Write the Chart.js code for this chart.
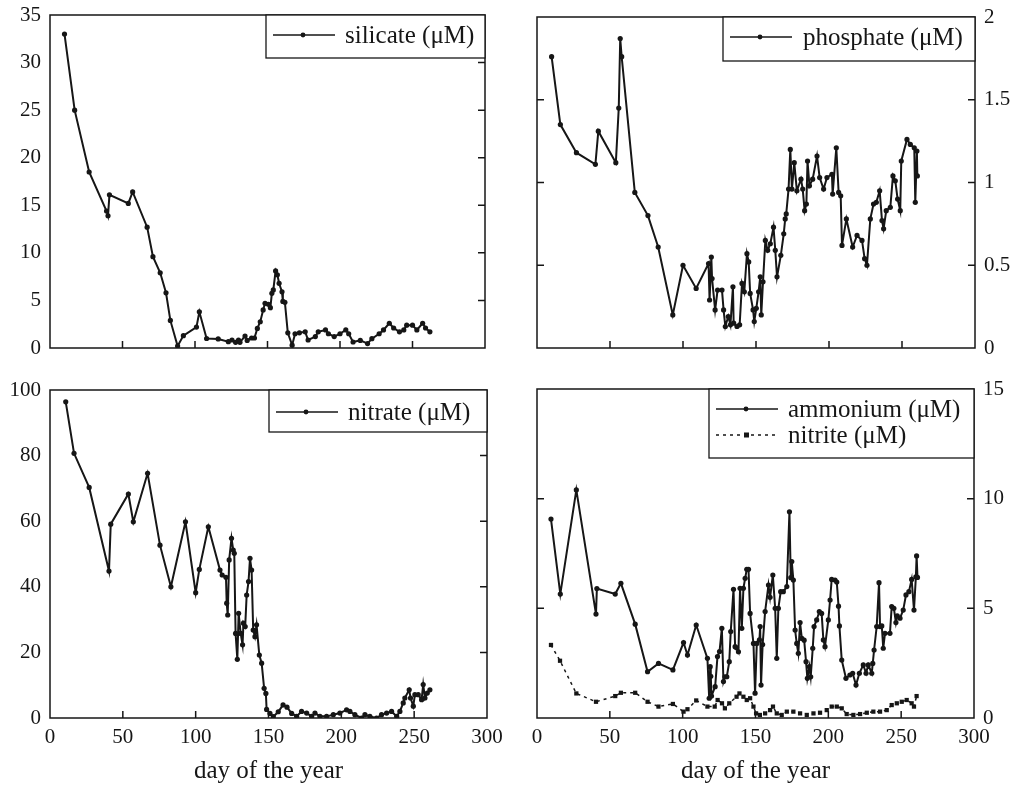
<!DOCTYPE html>
<html>
<head>
<meta charset="utf-8">
<script src="https://cdn.jsdelivr.net/npm/chart.js@4/dist/chart.umd.min.js"></script>
<style>
  html, body { margin: 0; padding: 0; background: #fff; }
  #wrap { position: relative; width: 1012px; height: 788px; }
  #wrap canvas { position: absolute; left: 0; top: 0; }
</style>
</head>
<body>
<div id="wrap">
  <canvas id="silicate" width="1012" height="788"></canvas>
  <canvas id="phosphate" width="1012" height="788"></canvas>
  <canvas id="nitrate" width="1012" height="788"></canvas>
  <canvas id="ammonium" width="1012" height="788"></canvas>
</div>
<script>
// values, day of the year vs concentration (uM)
const silicateDay = [10, 17, 27, 39, 40, 41, 54, 57, 67, 71, 76, 80, 83, 88, 92, 101, 103, 108, 116, 123, 125.5, 128, 130, 131, 134.5, 136, 139, 141, 143, 145, 147, 148.3, 150.6, 152, 153, 154, 155.6, 156.8, 158, 160, 160.6, 162, 164, 167, 169, 172, 176, 178, 183, 185, 190, 192, 196, 200, 204, 206, 209, 214, 219, 222, 227, 230, 234, 237, 241, 244, 246, 250, 253, 257, 259, 262];
const silicateVal = [33, 25, 18.5, 14.4, 13.9, 16.1, 15.2, 16.4, 12.7, 9.6, 7.9, 5.8, 2.9, 0.2, 1.3, 2.2, 3.8, 1.0, 0.95, 0.67, 0.84, 0.6, 0.84, 0.6, 1.26, 0.8, 1.05, 1.05, 2.06, 2.76, 4.0, 4.7, 4.6, 4.24, 5.75, 6.1, 8.1, 7.7, 6.8, 5.9, 4.9, 4.8, 1.6, 0.3, 1.5, 1.6, 1.7, 0.84, 1.2, 1.7, 1.9, 1.5, 1.2, 1.5, 1.9, 1.5, 0.63, 0.8, 0.46, 0.98, 1.5, 1.9, 2.6, 2.1, 1.7, 1.9, 2.4, 2.4, 1.9, 2.6, 2.1, 1.7];

const phosphateDay = [10, 16, 27, 40, 42, 54, 56, 57, 58, 67, 76, 83, 93, 100, 109, 117.5, 118.2, 119.4, 119.9, 122, 123.7, 126.7, 127.8, 129, 131, 132.5, 134.2, 134.7, 137, 138.8, 140.4, 142, 143.8, 145, 146, 148, 148.8, 150.2, 151.8, 152.9, 153.6, 154.8, 156.4, 158, 159.8, 162, 163.2, 164.4, 167, 169, 170, 170.7, 172.3, 173.5, 174.6, 176.2, 178, 180.8, 182, 183.3, 184.5, 185.3, 186.6, 188.8, 191.8, 193.6, 196.3, 198.6, 202, 202.5, 205, 206.6, 208, 208.9, 211.9, 216.2, 219.2, 222.6, 224.4, 226, 228.3, 230.5, 232.4, 234.7, 236.3, 237.4, 239.2, 242, 243.8, 245.4, 247, 248.8, 249.5, 253.4, 255.7, 258.4, 259.1, 260.2, 260.5];
const phosphateVal = [1.76, 1.35, 1.18, 1.11, 1.31, 1.12, 1.45, 1.87, 1.76, 0.94, 0.80, 0.61, 0.20, 0.50, 0.36, 0.51, 0.29, 0.55, 0.42, 0.23, 0.35, 0.35, 0.23, 0.13, 0.19, 0.14, 0.37, 0.15, 0.13, 0.14, 0.39, 0.34, 0.57, 0.52, 0.33, 0.23, 0.16, 0.24, 0.34, 0.43, 0.20, 0.40, 0.65, 0.59, 0.63, 0.73, 0.59, 0.43, 0.56, 0.69, 0.78, 0.81, 0.96, 1.20, 0.96, 1.12, 0.95, 1.02, 0.96, 0.83, 0.87, 1.13, 0.98, 1.02, 1.16, 1.03, 0.96, 1.03, 1.05, 0.93, 1.21, 0.94, 0.92, 0.62, 0.78, 0.61, 0.68, 0.65, 0.54, 0.50, 0.78, 0.87, 0.88, 0.95, 0.77, 0.72, 0.83, 0.85, 1.04, 1.01, 0.90, 0.83, 1.13, 1.26, 1.23, 1.21, 0.88, 1.19, 1.04];

const nitrateDay = [10.8, 16.5, 26.9, 40.5, 41.7, 53.8, 57.2, 67, 75.5, 83, 93, 100, 102.5, 108.7, 116.7, 118.2, 120.8, 121.3, 122, 123, 124.6, 125.8, 126.5, 127.4, 128.6, 129.5, 130.9, 132.2, 132.8, 134, 135, 136.3, 137.3, 138.4, 139.5, 140.7, 141.8, 143.7, 145.3, 147, 148.2, 148.7, 151, 153.3, 156.7, 160, 162.7, 165.9, 169.3, 172.7, 176.2, 179.6, 181.9, 185.3, 189.9, 194.5, 199, 203.6, 205.9, 209.3, 213.9, 216.2, 219.6, 224.2, 227.6, 231.1, 234.5, 238, 240.2, 242.5, 243.6, 246.6, 247.5, 249.4, 250.5, 252.8, 255.1, 256.2, 257.4, 259, 260.8];
const nitrateVal = [96.4, 80.7, 70.3, 44.8, 59.1, 68.3, 59.8, 74.6, 52.7, 40, 59.8, 38.2, 45.3, 58.3, 45.1, 43.6, 42.9, 35, 31.4, 48.2, 54.8, 51.2, 50.2, 25.8, 17.9, 31.9, 25.8, 22.3, 28.9, 27.9, 37.5, 41.6, 48.7, 45.1, 26.8, 24.8, 28.4, 19.2, 16.7, 9.05, 7.5, 2.6, 1.4, 0.4, 1.9, 4.0, 3.3, 1.4, 0.5, 2.0, 1.5, 0.5, 1.5, 0.5, 0.5, 1.0, 1.5, 2.5, 2.0, 1.0, 0, 1.0, 0.5, 0, 1.0, 1.5, 2.0, 0.5, 2.0, 4.6, 6.1, 8.6, 6.1, 3.6, 7.1, 7.1, 5.6, 10.2, 6.1, 7.6, 8.6];

const ammoniumDay = [9.6, 16, 27, 40.5, 41.1, 53.7, 57.6, 67.4, 75.9, 83.4, 93.3, 100.6, 103.3, 109.3, 117, 118.2, 118.9, 119.3, 119.8, 122.3, 123.9, 125.3, 126.9, 128, 129, 130.3, 132, 133, 134.9, 136, 137, 138.3, 139.4, 140.6, 141.7, 142.9, 144, 145.2, 146.3, 148.6, 149.7, 150.9, 152.7, 153.2, 153.8, 154.9, 156.6, 158.9, 160, 161.9, 163.5, 164.6, 165.7, 167.3, 169.1, 171.5, 173.3, 174.2, 174.9, 176, 177.2, 178.3, 179.4, 180.6, 181.8, 183.4, 184.7, 185.6, 187, 187.9, 189.3, 190.2, 192, 193.8, 195.4, 196.6, 197.7, 200, 201.2, 202.3, 204.6, 205.8, 207, 207.6, 209.2, 212.1, 214.8, 216.7, 219, 221.3, 224, 225.9, 227.4, 229.8, 230.5, 231.4, 233.2, 234.8, 235.5, 236.7, 237.7, 238.9, 242.3, 243.5, 245, 246.4, 247.3, 249.2, 251.4, 253.3, 255.3, 257.2, 258.8, 260.1, 260.6, 261.2];
const ammoniumVal = [9.07, 5.65, 10.4, 4.74, 5.9, 5.65, 6.14, 4.28, 2.11, 2.49, 2.19, 3.44, 2.87, 4.24, 2.72, 0.9, 2.34, 1.9, 1.0, 1.43, 2.8, 3.03, 4.09, 1.66, 1.88, 1.88, 2.57, 3.94, 5.87, 3.25, 3.2, 3.02, 5.91, 4.09, 5.91, 6.37, 6.78, 6.78, 4.77, 3.4, 1.13, 3.4, 3.56, 4.17, 1.5, 3.35, 4.85, 6.06, 5.5, 6.52, 5.0, 2.72, 5.0, 5.76, 5.76, 5.99, 9.4, 6.4, 7.13, 6.29, 4.01, 3.4, 2.95, 4.35, 3.63, 3.55, 2.57, 1.81, 2.34, 1.88, 3.18, 4.17, 4.47, 4.85, 4.77, 3.56, 3.25, 4.47, 5.38, 6.32, 6.29, 6.2, 5.1, 4.2, 2.64, 1.81, 1.96, 2.04, 1.5, 2.04, 2.42, 2.04, 2.42, 2.04, 2.49, 3.1, 4.17, 6.17, 4.17, 4.2, 3.18, 3.86, 3.86, 5.08, 5.0, 4.35, 4.66, 4.55, 4.92, 5.61, 5.76, 6.32, 4.92, 6.44, 7.39, 6.41];

const nitriteDay = [9.6, 15.8, 27, 40.5, 53.7, 57.6, 67.4, 75.9, 83.4, 93.3, 100.6, 103.3, 109.3, 117, 122, 124, 127, 129, 132, 137, 139, 141.7, 144, 146.3, 148.6, 150.4, 153, 156.6, 160, 162, 164.6, 168, 171.5, 176, 180.6, 185.2, 189.8, 194.3, 198.9, 202.3, 205.8, 209.2, 212.6, 217.2, 221.8, 226.4, 230.9, 235.5, 240.1, 243.5, 247, 250.4, 253.8, 257.2, 258.8, 260.6];
const nitriteVal = [3.33, 2.61, 1.12, 0.74, 1.0, 1.15, 1.15, 0.74, 0.52, 0.64, 0.29, 0.4, 0.8, 0.52, 0.52, 0.82, 0.67, 0.44, 0.67, 0.97, 1.12, 0.97, 0.82, 0.9, 0.52, 0.21, 0.14, 0.21, 0.36, 0.52, 0.21, 0.14, 0.29, 0.29, 0.21, 0.14, 0.21, 0.24, 0.36, 0.52, 0.52, 0.44, 0.18, 0.14, 0.18, 0.24, 0.29, 0.29, 0.36, 0.59, 0.67, 0.74, 0.82, 0.67, 0.52, 1.0];

const INK = '#161616';
const SERIF = "'Liberation Serif', 'DejaVu Serif', serif";

function pts(days, vals) {
    return days.map((d, i) => ({x: d, y: vals[i]}));
}

function line(label, days, vals, extra) {
    return Object.assign({
        label: label,
        data: pts(days, vals),
        borderColor: INK,
        backgroundColor: INK,
        borderWidth: 2,
        pointRadius: 2.6,
        pointBorderWidth: 0,
        pointBackgroundColor: INK,
        tension: 0
    }, extra || {});
}

// frame, inward tick marks and the boxed legend
const framePlugin = {
    id: 'frame',
    afterDraw(chart, args, opts) {
        const {ctx, chartArea: a, scales} = chart;
        const len = 7;
        ctx.save();
        ctx.strokeStyle = INK;
        ctx.lineWidth = 1.5;
        ctx.strokeRect(a.left, a.top, a.right - a.left, a.bottom - a.top);
        ctx.beginPath();
        scales.x.ticks.forEach(t => {
            const px = scales.x.getPixelForValue(t.value);
            if(px < a.left + 2 || px > a.right - 2) return;
            ctx.moveTo(px, a.bottom);
            ctx.lineTo(px, a.bottom - len);
        });
        scales.y.ticks.forEach(t => {
            const py = scales.y.getPixelForValue(t.value);
            if(py < a.top + 2 || py > a.bottom - 2) return;
            ctx.moveTo(a.right, py);
            ctx.lineTo(a.right - len, py);
            if(opts.leftTicks) {
                ctx.moveTo(a.left, py);
                ctx.lineTo(a.left + len, py);
            }
        });
        ctx.stroke();

        // legend box
        const [x1, y1, x2, y2] = opts.box;
        ctx.fillStyle = '#fff';
        ctx.fillRect(x1, y1, x2 - x1, y2 - y1);
        ctx.lineWidth = 1.3;
        ctx.strokeRect(x1, y1, x2 - x1, y2 - y1);
        ctx.font = '25px ' + SERIF;
        ctx.textBaseline = 'middle';
        chart.data.datasets.forEach((ds, i) => {
            const cy = y1 + opts.first + i * 26;
            ctx.lineWidth = 1.5;
            ctx.setLineDash(ds.borderDash || []);
            ctx.beginPath();
            ctx.moveTo(x1 + 7, cy);
            ctx.lineTo(x1 + 69, cy);
            ctx.stroke();
            ctx.setLineDash([]);
            ctx.fillStyle = INK;
            if(ds.pointStyle === 'rect') {
                ctx.fillRect(x1 + 35, cy - 2.5, 5, 5);
            } else {
                ctx.beginPath();
                ctx.arc(x1 + 37, cy, 2.4, 0, Math.PI * 2);
                ctx.fill();
            }
            ctx.fillText(ds.label, x1 + opts.textX, cy + 1);
        });
        ctx.restore();
    }
};

function makePanel(id, datasets, cfg) {
    new Chart(document.getElementById(id), {
        type: 'line',
        data: {datasets: datasets},
        plugins: [framePlugin],
        options: {
            responsive: false,
            animation: false,
            layout: {padding: cfg.padding},
            plugins: {
                legend: {display: false},
                tooltip: {enabled: false},
                frame: cfg.frame
            },
            scales: {
                x: {
                    type: 'linear',
                    min: 0,
                    max: 300,
                    grid: {display: false, drawTicks: false},
                    border: {display: false},
                    ticks: {
                        display: cfg.xLabels,
                        stepSize: 50,
                        padding: 7,
                        color: INK,
                        font: {family: SERIF, size: 21}
                    },
                    title: {
                        display: cfg.xLabels,
                        text: 'day of the year',
                        color: INK,
                        padding: {top: 0, bottom: 2},
                        font: {family: SERIF, size: 25}
                    },
                    afterFit: s => {
                        s.height = cfg.xHeight;
                        s.paddingLeft = 0;
                        s.paddingRight = 0;
                    }
                },
                y: {
                    type: 'linear',
                    position: cfg.yPos,
                    min: 0,
                    max: cfg.yMax,
                    grid: {display: false, drawTicks: false},
                    border: {display: false},
                    ticks: {
                        stepSize: cfg.yStep,
                        padding: cfg.yPad,
                        color: INK,
                        font: {family: SERIF, size: 21},
                        callback: v => String(v)
                    },
                    afterFit: s => {
                        s.width = cfg.yWidth;
                        s.paddingTop = 0;
                        s.paddingBottom = 0;
                    }
                }
            }
        }
    });
}

makePanel('silicate', [line('silicate (\u03bcM)', silicateDay, silicateVal)], {
    padding: {left: 0, top: 15, right: 1012 - 485, bottom: 0},
    xHeight: 788 - 348, xLabels: false,
    yPos: 'left', yMax: 35, yStep: 5, yPad: 9, yWidth: 50,
    frame: {box: [266, 15, 485, 58], first: 20, textX: 79, leftTicks: false}
});

makePanel('phosphate', [line('phosphate (\u03bcM)', phosphateDay, phosphateVal)], {
    padding: {left: 537, top: 17, right: 0, bottom: 0},
    xHeight: 788 - 348, xLabels: false,
    yPos: 'right', yMax: 2, yStep: 0.5, yPad: 9, yWidth: 1012 - 975,
    frame: {box: [723, 17, 975, 61], first: 20, textX: 80, leftTicks: true}
});

makePanel('nitrate', [line('nitrate (\u03bcM)', nitrateDay, nitrateVal)], {
    padding: {left: 0, top: 390, right: 1012 - 487, bottom: 0},
    xHeight: 788 - 718, xLabels: true,
    yPos: 'left', yMax: 100, yStep: 20, yPad: 9, yWidth: 50,
    frame: {box: [269, 390, 487, 432], first: 22, textX: 79, leftTicks: false}
});

makePanel('ammonium', [
    line('ammonium (\u03bcM)', ammoniumDay, ammoniumVal),
    line('nitrite (\u03bcM)', nitriteDay, nitriteVal, {
        borderDash: [3, 4],
        borderWidth: 1.5,
        pointStyle: 'rect',
        pointRadius: 3
    })
], {
    padding: {left: 537, top: 389, right: 0, bottom: 0},
    xHeight: 788 - 718, xLabels: true,
    yPos: 'right', yMax: 15, yStep: 5, yPad: 9, yWidth: 1012 - 974,
    frame: {box: [709, 389, 974, 458], first: 20, textX: 79, leftTicks: true}
});
</script>
</body>
</html>
